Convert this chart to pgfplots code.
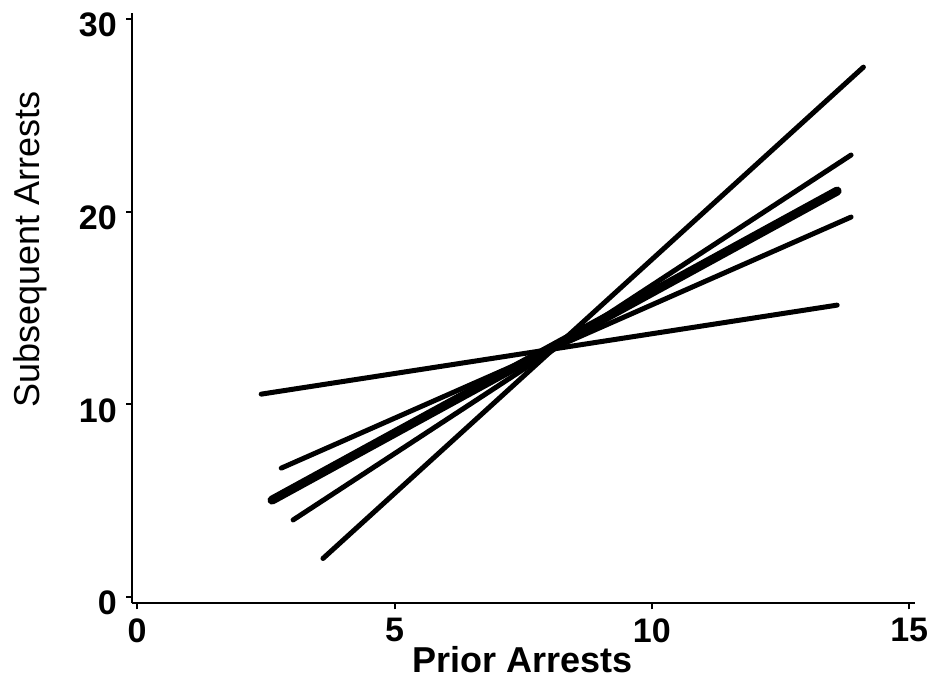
\documentclass[border=0pt]{standalone}
\usepackage{fontspec}
\setmainfont{Liberation Sans}
\usepackage{pgfplots}
\pgfplotsset{compat=1.18}
\begin{document}
\begin{tikzpicture}
\path[use as bounding box] (-132pt,-75.6pt) rectangle (802pt,603.4pt);
\begin{axis}[
  at={(0,0)}, anchor=south west,
  scale only axis, width=783.4pt, height=590.2pt,
  xmin=-0.1, xmax=15.12, ymin=-0.33, ymax=30.3,
  axis lines=left, axis line style={-, line width=2pt},
  xtick={0,5,10,15}, ytick={0,10,20,30},
  tick align=outside, major tick length=6pt,
  every tick/.style={black, line width=2pt},
  tick label style={font=\fontsize{34}{40}\selectfont\bfseries},
  /pgf/number format/assume math mode=true,
  xticklabel style={anchor=north, inner sep=0pt, yshift=-9pt},
  yticklabel style={anchor=east, inner sep=0pt, xshift=-9pt, yshift=-6pt},
  xlabel={Prior Arrests},
  xlabel style={font=\fontsize{36}{42}\selectfont\bfseries, at={(axis description cs:0.498,-0.0959)}, anchor=center, inner sep=0pt},
  ylabel={Subsequent Arrests},
  ylabel style={font=\fontsize{36}{42}\selectfont, at={(axis description cs:-0.1302,0.599)}, anchor=center, rotate=0, inner sep=0pt},
  clip=false,
]
\addplot[black, line width=5pt, line cap=round] coordinates {(2.41,10.53) (13.6,15.15)};
\addplot[black, line width=5pt, line cap=round] coordinates {(3.61,2.0) (14.11,27.5)};
\addplot[black, line width=5pt, line cap=round] coordinates {(3.03,4.0) (13.87,22.94)};
\addplot[black, line width=9pt, line cap=round] coordinates {(2.62,5.03) (13.6,21.07)};
\addplot[black, line width=5pt, line cap=round] coordinates {(2.80,6.69) (13.87,19.72)};
\end{axis}
\end{tikzpicture}
\end{document}
